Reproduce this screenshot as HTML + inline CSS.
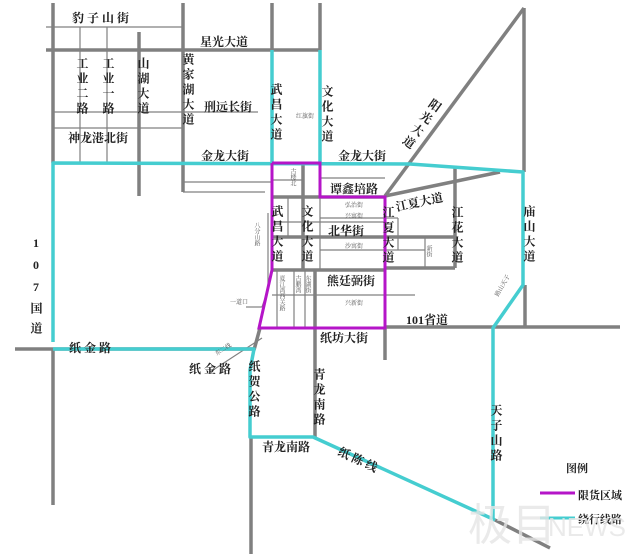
<!DOCTYPE html>
<html><head><meta charset="utf-8"><style>
html,body{margin:0;padding:0;background:#fff;}
svg{display:block;}
text{font-family:"Liberation Serif","Noto Serif CJK SC","Noto Sans CJK SC",serif;font-weight:bold;fill:#222;}
.v{writing-mode:tb;letter-spacing:3px;}
.s{font-size:6px;font-weight:normal;fill:#555;letter-spacing:0;}
</style></head><body>
<svg width="640" height="554" viewBox="0 0 640 554" xmlns="http://www.w3.org/2000/svg">
<g stroke="#808080" fill="none">
<g stroke-width="3.5">
<line x1="53" y1="3" x2="53" y2="163"/>
<line x1="183" y1="3" x2="183" y2="192"/>
<line x1="139" y1="32" x2="139" y2="196"/>
<line x1="272" y1="3" x2="272" y2="50"/>
<line x1="320" y1="3" x2="320" y2="50"/>
<line x1="46" y1="50" x2="320" y2="50"/>
<line x1="524" y1="8" x2="524" y2="172"/>
<line x1="524" y1="8" x2="385" y2="196"/>
<line x1="385" y1="196" x2="500" y2="172"/>
<line x1="455" y1="168" x2="455" y2="268"/>
<line x1="385" y1="268" x2="455" y2="268"/>
<line x1="272" y1="197" x2="385" y2="197"/>
<line x1="272" y1="237" x2="455" y2="237"/>
<line x1="303" y1="163" x2="303" y2="270"/>
<line x1="315" y1="270" x2="315" y2="437"/>
<line x1="272" y1="270" x2="385" y2="270"/>
<line x1="385" y1="327" x2="620" y2="327"/>
<line x1="385" y1="327" x2="385" y2="360"/>
<line x1="525" y1="285" x2="525" y2="327"/>
<line x1="260" y1="328" x2="254" y2="350"/>
<line x1="15" y1="349" x2="254" y2="349"/>
<line x1="53" y1="349" x2="53" y2="505"/>
<line x1="251" y1="437" x2="251" y2="554"/>
<line x1="495" y1="520" x2="550" y2="548"/>
</g>
<g stroke-width="1.2">
<line x1="46" y1="27" x2="183" y2="27"/>
<line x1="80" y1="27" x2="80" y2="163"/>
<line x1="107" y1="27" x2="107" y2="163"/>
<line x1="53" y1="112" x2="183" y2="112"/>
<line x1="53" y1="128" x2="183" y2="128"/>
<line x1="183" y1="112" x2="258" y2="112"/>
<line x1="183" y1="182" x2="272" y2="182"/>
<line x1="183" y1="192" x2="265" y2="192"/>
<line x1="272" y1="180" x2="303" y2="180"/>
<line x1="320" y1="178" x2="385" y2="178"/>
<line x1="320" y1="218" x2="385" y2="218"/>
<line x1="320" y1="222" x2="385" y2="222"/>
<line x1="272" y1="222" x2="320" y2="222"/>
<line x1="320" y1="250" x2="425" y2="250"/>
<line x1="385" y1="218" x2="398" y2="218"/>
<line x1="398" y1="218" x2="398" y2="250"/>
<line x1="425" y1="237" x2="425" y2="268"/>
<line x1="288" y1="197" x2="288" y2="237"/>
<line x1="320" y1="197" x2="320" y2="270"/>
<line x1="277" y1="270" x2="277" y2="328"/>
<line x1="294" y1="270" x2="294" y2="328"/>
<line x1="305" y1="270" x2="305" y2="328"/>
<line x1="272" y1="295" x2="315" y2="295"/>
<line x1="315" y1="295" x2="415" y2="295"/>
<line x1="268" y1="213" x2="268" y2="290"/>
<line x1="268" y1="290" x2="262" y2="307"/>
<line x1="246" y1="307" x2="262" y2="307"/>
<line x1="262" y1="338" x2="210" y2="372"/>
</g>
</g>
<g stroke="#45cdd0" stroke-width="3.5" fill="none" stroke-linejoin="round">
<polyline points="53,342 53,163 410,164 523,172 523,285 493,328 493,518"/>
<line x1="272" y1="50" x2="272" y2="163"/>
<line x1="320" y1="50" x2="320" y2="163"/>
<polyline points="53,349 254,349 250,370 250,437 313,437 495,520"/>
</g>
<polyline points="272,163 320,163 320,197 385,197 385,328 259,328 272,270 272,163" fill="none" stroke="#b515c8" stroke-width="3"/>
<g font-size="12">
<text x="72" y="22">豹 子 山 街</text>
<text x="200" y="46">星光大道</text>
<text x="82" y="57" class="v">工业二路</text>
<text x="108" y="57" class="v">工业一路</text>
<text x="143" y="57" class="v">山湖大道</text>
<text x="188" y="53" class="v">黄家湖大道</text>
<text x="204" y="111">刑远长街</text>
<text x="68" y="142">神龙港北街</text>
<text x="201" y="160">金龙大街</text>
<text x="276" y="83" class="v">武昌大道</text>
<text x="327" y="85" class="v">文化大道</text>
<text x="338" y="160">金龙大街</text>
<text x="438" y="100" class="v" transform="rotate(35 438 100)">阳光大道</text>
<text x="330" y="193">谭鑫培路</text>
<text x="395" y="206" transform="rotate(-12 420 200)">江夏大道</text>
<text x="277" y="205" class="v">武昌大道</text>
<text x="307" y="205" class="v">文化大道</text>
<text x="328" y="235">北华街</text>
<text x="388" y="206" class="v">江夏大道</text>
<text x="457" y="206" class="v">江花大道</text>
<text x="529" y="205" class="v">庙山大道</text>
<text x="327" y="285">熊廷弼街</text>
<text x="406" y="324">101省道</text>
<text x="320" y="342">纸坊大街</text>
<text x="69" y="352">纸 金 路</text>
<text x="189" y="373">纸 金 路</text>
<text x="254" y="360" class="v">纸贺公路</text>
<text x="319" y="368" class="v">青龙南路</text>
<text x="262" y="451">青龙南路</text>
<text x="338" y="460" transform="rotate(25 350 455)">纸 陈 线</text>
<text x="496" y="404" class="v">天子山路</text>
<text x="36" y="236" class="v" style="letter-spacing:8px;text-orientation:upright">107国道</text>
<text x="566" y="472" font-size="11">图例</text>
<text x="578" y="499" font-size="11">限货区域</text>
<text x="578" y="523" font-size="11">绕行线路</text>
</g>
<g class="s">
<text x="296" y="118" class="s">红旗街</text>
<text x="292" y="168" class="s v">古楼北</text>
<text x="345" y="207" class="s">弘治街</text>
<text x="345" y="218" class="s">兴寓街</text>
<text x="345" y="248" class="s">沙寓街</text>
<text x="428" y="245" class="s v">新街</text>
<text x="345" y="305" class="s">兴新街</text>
<text x="281" y="275" class="s v">夏江湾西关路</text>
<text x="297" y="275" class="s v">古鹏湾</text>
<text x="307" y="275" class="s v">东湖街</text>
<text x="256" y="222" class="s v">八分山路</text>
<text x="230" y="304" class="s">一道口</text>
<text x="214" y="353" class="s" transform="rotate(-33 220 350)">东二线</text>
<text x="500" y="290" class="s" transform="rotate(-60 505 295)">路山天子</text>
</g>
<line x1="540" y1="493" x2="575" y2="493" stroke="#b515c8" stroke-width="3"/>
<line x1="540" y1="518" x2="575" y2="518" stroke="#45cdd0" stroke-width="3"/>
<text x="468" y="540" font-size="44" style="fill:#e6e6e6;font-weight:normal;font-family:'Liberation Sans','Noto Sans CJK SC',sans-serif;opacity:.8">极目</text>
<text x="548" y="536" font-size="26" style="fill:#e6e6e6;font-weight:normal;font-family:'Liberation Sans',sans-serif;opacity:.8">NEWS</text>
</svg>
</body></html>
